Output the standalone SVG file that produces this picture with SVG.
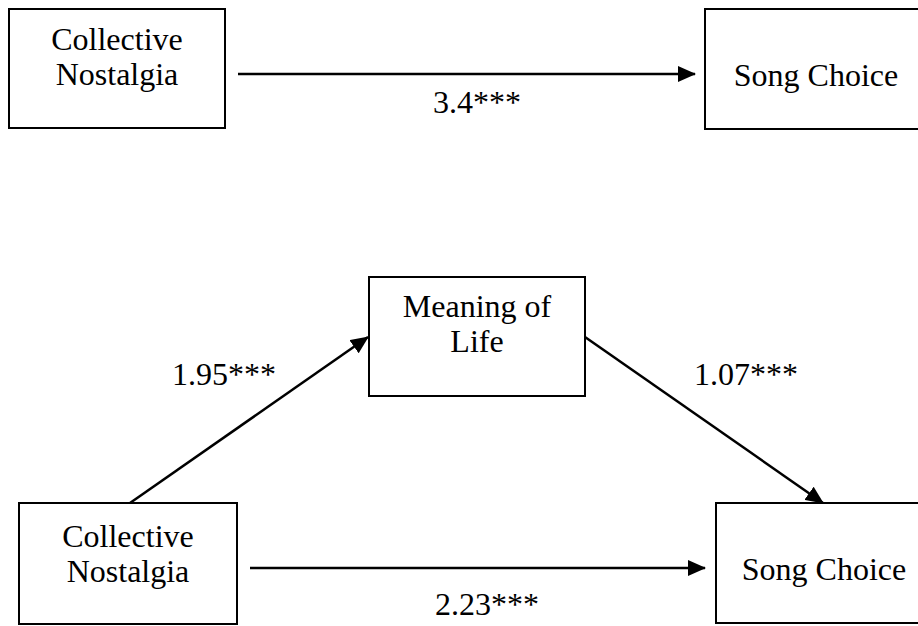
<svg xmlns="http://www.w3.org/2000/svg" width="918" height="626" viewBox="0 0 918 626">
<defs>
<marker id="ah" markerUnits="userSpaceOnUse" markerWidth="18" markerHeight="16" refX="17" refY="8" orient="auto">
<path d="M0,0 L18,8 L0,16 Z" fill="#000"/>
</marker>
<style>
rect{fill:#fff;stroke:#000;stroke-width:2}
text{font-size:32px;fill:#000;text-anchor:middle}
.c line{stroke:#000;stroke-width:2.5;marker-end:url(#ah)}
</style>
</defs>
<rect x="0" y="0" width="918" height="626" style="stroke:none"/>
<g font-family="'Liberation Serif', 'Times New Roman', 'DejaVu Serif', serif">
<g id="cn-top"><rect x="9" y="9" width="216" height="119"/><text x="117" y="50">Collective</text><text x="117" y="85">Nostalgia</text></g>
<g id="sc-top"><rect x="705" y="9" width="230" height="120"/><text x="816" y="86">Song Choice</text></g>
<g id="mol"><rect x="369" y="277" width="216" height="119"/><text x="477" y="317">Meaning of</text><text x="477" y="352">Life</text></g>
<g id="cn-bot"><rect x="19" y="503" width="218" height="121"/><text x="128" y="547">Collective</text><text x="128" y="582">Nostalgia</text></g>
<g id="sc-bot"><rect x="716" y="503" width="230" height="120"/><text x="824" y="580">Song Choice</text></g>
<g class="c" id="connectors">
<line x1="238" y1="74" x2="695" y2="74"/>
<line x1="130" y1="503" x2="368" y2="337"/>
<line x1="585" y1="337" x2="823" y2="503"/>
<line x1="250" y1="568" x2="705" y2="568"/>
</g>
<g id="labels">
<text x="477" y="113">3.4***</text>
<text x="224" y="385">1.95***</text>
<text x="746" y="385">1.07***</text>
<text x="487" y="615">2.23***</text>
</g>
</g>
</svg>
